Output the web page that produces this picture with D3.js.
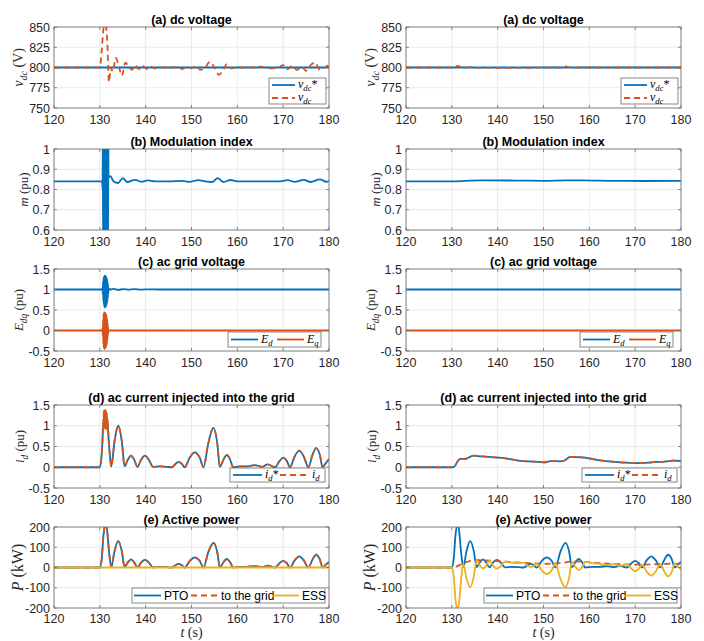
<!DOCTYPE html>
<html>
<head>
<meta charset="utf-8">
<script src="https://cdn.jsdelivr.net/npm/d3@7"></script>
<style>
  body { margin: 0; background: #fff; }
  svg { display: block; }
</style>
</head>
<body>
<svg width="704" height="641"></svg>
<script>
// ---- tick values ----
const xTicks = [120, 130, 140, 150, 160, 170, 180];
const vdcTicks = [750, 775, 800, 825, 850];
const mTicks = [0.6, 0.7, 0.8, 0.9, 1];
const eTicks = [-0.5, 0, 0.5, 1, 1.5];
const idTicks = [-0.5, 0, 0.5, 1, 1.5];
const pTicks = [-200, -100, 0, 100, 200];

// ---- fault transient samples (130.6 - 131.9 s) ----
const burstT = [130.6, 130.65, 130.7, 130.75, 130.8, 130.85, 130.9, 130.95, 131.0, 131.05, 131.1, 131.15, 131.2, 131.25,
  131.3, 131.35, 131.4, 131.45, 131.5, 131.55, 131.6, 131.65, 131.7, 131.75, 131.8, 131.85, 131.9];
const mBurst = [0.8, 1.05, 0.55, 1.05, 0.55, 1.05, 0.55, 1.05, 0.55, 1.05, 0.55, 1.05, 0.55, 1.05,
  0.55, 1.05, 0.55, 1.05, 0.55, 1.05, 0.55, 1.05, 0.55, 1.05, 0.55, 1.05, 0.86];
const edBurst = [1.04, 0.88, 1.2, 0.72, 1.28, 0.64, 1.32, 0.58, 1.34, 0.56, 1.34, 0.56, 1.33, 0.57,
  1.33, 0.58, 1.31, 0.6, 1.29, 0.64, 1.25, 0.7, 1.19, 0.78, 1.12, 0.9, 1.02];
const eqBurst = [0.05, -0.15, 0.25, -0.33, 0.4, -0.43, 0.44, -0.45, 0.44, -0.45, 0.44, -0.44, 0.43, -0.43,
  0.42, -0.41, 0.4, -0.38, 0.35, -0.32, 0.28, -0.24, 0.19, -0.14, 0.09, -0.05, 0.01];
const idBurst = [0.75, 1.0, 0.85, 1.2, 0.95, 1.35, 0.95, 1.38, 0.92, 1.4, 0.95, 1.38, 0.92, 1.37,
  0.95, 1.35, 0.93, 1.33, 0.95, 1.3, 0.92, 1.2, 0.88, 1.05, 0.8, 0.85, 0.7];

// ---- (a) dc voltage [t, V] ----
const vdcRef = [[120, 800], [180, 800]];
const vdcL = [[120, 800], [130, 800], [130.4, 820], [130.8, 848], [131.2, 853], [131.6, 835], [132.0, 782], [132.4, 800],
  [132.8, 795], [133.5, 812], [134.2, 800], [134.8, 790], [135.6, 806], [136.4, 800], [137.0, 797], [137.7, 803],
  [138.5, 798], [139.3, 802], [140.3, 798], [141.2, 801], [142, 799], [144, 800], [146, 800], [147, 801], [148, 798],
  [149, 801], [150, 799], [151, 802], [152, 797], [153, 800], [154, 807], [155, 800], [156, 791], [157, 798],
  [157.7, 804], [158.7, 799], [160, 800], [163, 800], [165, 801], [167, 799], [169, 800], [170, 803], [171, 798],
  [172, 802], [173, 797], [174, 801], [175, 796], [176, 803], [177, 806], [178, 797], [179, 800], [180, 803]];
const vdcR = [[120, 800], [130.5, 800], [131.2, 802], [131.8, 801], [132.5, 800], [134, 800.5], [135, 799.5],
  [154, 800], [154.8, 801.5], [155.5, 800.5], [156.5, 799.5], [158, 800], [180, 800]];

// ---- (b) modulation index [t, pu] ----
const mBaseL = [[120, 0.84], [130.3, 0.84], [130.55, 0.83], [132.3, 0.866], [133, 0.84], [134, 0.832], [135, 0.856],
  [136, 0.837], [137.7, 0.848], [139, 0.838], [140.5, 0.845], [142, 0.84], [145, 0.84], [148, 0.843], [149.5, 0.838],
  [151.5, 0.846], [153, 0.84], [154.5, 0.837], [155.7, 0.856], [157, 0.837], [158.5, 0.847], [160, 0.84], [169, 0.84],
  [171, 0.846], [172.5, 0.838], [174.5, 0.848], [176, 0.837], [178, 0.85], [179.5, 0.838], [180, 0.843]];
const mR = [[120, 0.84], [130, 0.84], [132, 0.841], [134, 0.844], [137, 0.845], [145, 0.844], [150, 0.843],
  [155, 0.845], [158, 0.845], [165, 0.843], [172, 0.842], [180, 0.843]];

// ---- (c) ac grid voltage [t, pu] ----
const edBaseL = [[120, 1], [130.5, 1], [132.4, 1.0], [133, 1.015], [134, 0.99], [135.2, 1.01], [136.3, 0.995],
  [137.5, 1.008], [139, 0.997], [141, 1.005], [143, 1], [180, 1]];
const eqBaseL = [[120, 0], [130.5, 0], [132.1, 0], [180, 0]];
const edR = [[120, 1], [180, 1]];
const eqR = [[120, 0], [180, 0]];

// ---- (d) ac current injected into the grid [t, pu] ----
const idRefL = [[120, 0], [130, 0], [130.4, 0.3], [130.8, 1.05], [131.2, 1.2], [131.6, 1.15], [132.0, 0.55],
  [132.5, 0.02], [133.2, 0.62], [134.0, 1.0], [134.8, 0.62], [135.4, 0.02], [136.1, 0.18], [136.8, 0.28],
  [137.5, 0.18], [138.2, 0.01], [139.0, 0.18], [139.8, 0.28], [140.7, 0.18], [141.6, 0.01], [143.0, 0.02],
  [144.5, 0.01], [145.7, 0.0], [146.5, 0.08], [147.2, 0.13], [147.9, 0.08], [148.5, 0.0], [149.6, 0.23],
  [150.7, 0.36], [151.8, 0.23], [152.6, 0.0], [153.7, 0.6], [154.8, 0.95], [155.6, 0.6], [156.2, 0.01],
  [157.0, 0.19], [157.7, 0.3], [158.4, 0.19], [159.1, 0.0], [160.5, 0.02], [162, 0.02], [163.8, 0.05],
  [165.5, 0.01], [166.6, 0.07], [168.2, 0.0], [169.2, 0.15], [170.0, 0.23], [170.8, 0.15], [171.5, 0.0],
  [172.5, 0.26], [173.5, 0.4], [174.5, 0.26], [175.5, 0.0], [176.4, 0.3], [177.2, 0.46], [178.0, 0.3],
  [178.6, 0.0], [179.3, 0.1], [180, 0.2]];
const idR = [[120, 0], [130.3, 0], [131.8, 0.2], [132.9, 0.2], [134.7, 0.28], [136.5, 0.26], [138, 0.25],
  [140.2, 0.23], [142.4, 0.2], [144.5, 0.16], [146.7, 0.14], [148.9, 0.13], [150.4, 0.12], [151.5, 0.15],
  [152.6, 0.15], [153.6, 0.14], [154.7, 0.17], [155.8, 0.25], [158.4, 0.24], [160.6, 0.2], [162.8, 0.16],
  [165.7, 0.13], [167.9, 0.11], [170, 0.1], [171.5, 0.1], [173, 0.11], [174.4, 0.13], [175.9, 0.13],
  [177.3, 0.15], [178.4, 0.16], [180, 0.15]];

// ---- (e) active power [t, kW] ----
const pPto = [[120, 0], [130, 0], [130.4, 40], [130.8, 160], [131.2, 215], [131.6, 180], [132.0, 80], [132.5, 2],
  [133.2, 80], [134.0, 130], [134.8, 80], [135.4, 2], [136.1, 25], [136.8, 40], [137.5, 25], [138.2, 1], [139.0, 24],
  [139.8, 38], [140.7, 24], [141.6, 1], [143, 3], [144.5, 2], [145.7, 0], [146.5, 11], [147.2, 18], [147.9, 11],
  [148.5, 0], [149.6, 32], [150.7, 50], [151.8, 32], [152.6, 0], [153.7, 78], [154.8, 122], [155.6, 78], [156.2, 1],
  [157.0, 27], [157.7, 42], [158.4, 27], [159.1, 0], [160.5, 3], [162, 3], [163.8, 7], [165.5, 2], [166.6, 9],
  [168.2, 0], [169.2, 21], [170.0, 33], [170.8, 21], [171.5, 0], [172.5, 35], [173.5, 55], [174.5, 35], [175.5, 0],
  [176.4, 40], [177.2, 63], [178.0, 40], [178.6, 0], [179.3, 14], [180, 28]];
const pGridL = pPto;
const pEssL = [[120, 0], [180, 0]];
const pGridR = [[120, 0], [130, 0], [131, 5], [132, 15], [133, 25], [134, 33], [135, 37], [136, 36], [137, 35],
  [139, 33], [141, 30], [143, 27], [145, 24], [147, 21], [149, 19], [150, 18], [152, 20], [154, 22], [155, 26],
  [156, 30], [158, 29], [160, 26], [162, 22], [164, 19], [166, 17], [168, 15], [170, 14], [172, 14], [174, 16],
  [176, 17], [178, 19], [180, 18]];
const pEssR = [[120, 0], [130, 0], [130.4, -39], [130.8, -157], [131.2, -209], [131.6, -170], [132.0, -66],
  [132.5, 18], [133.2, -54], [134.0, -98], [134.8, -44], [135.4, 35], [136.1, 11], [136.8, -5], [137.5, 10],
  [138.2, 33], [139.0, 9], [139.8, -6], [140.7, 7], [141.6, 29], [143, 24], [144.5, 23], [145.7, 23], [146.5, 11],
  [147.2, 3], [147.9, 9], [148.5, 19], [149.6, -14], [150.7, -32], [151.8, -13], [152.6, 20], [153.7, -56],
  [154.8, -97], [155.6, -49], [156.2, 29], [157.0, 3], [157.7, -13], [158.4, 2], [159.1, 28], [160.5, 22], [162, 19],
  [163.8, 13], [165.5, 16], [166.6, 8], [168.2, 15], [169.2, -6], [170.0, -19], [170.8, -7], [171.5, 14],
  [172.5, -20], [173.5, -40], [174.5, -19], [175.5, 17], [176.4, -22], [177.2, -44], [178.0, -21], [178.6, 20],
  [179.3, 5], [180, -10]];

// splice the transient samples into a base series
const withBurst = (base, vals) => base.filter(d => d[0] < burstT[0])
  .concat(burstT.map((t, i) => [t, vals[i]]))
  .concat(base.filter(d => d[0] > burstT[burstT.length - 1]));

const blue = "#0072BD", orange = "#D95319", yellow = "#EDB120";
const axisColor = "#262626";
const sans = "'Liberation Sans', Arial, Helvetica, sans-serif";
const serif = "'Liberation Serif', 'Times New Roman', serif";

const svg = d3.select("svg");
svg.append("rect").attr("width", 704).attr("height", 641).attr("fill", "white");

const colX = [54, 406];
const plotW = 275;
const rows = [
  { top: 27, bottom: 108 },
  { top: 149, bottom: 230 },
  { top: 269, bottom: 351 },
  { top: 405, bottom: 488 },
  { top: 527, bottom: 608 }
];

// math-style label: italic serif letters with subscripts
function mathText(text, segs, size) {
  let prevSub = false;
  segs.forEach(s => {
    const ts = text.append("tspan").text(s.t);
    ts.attr("font-style", s.it ? "italic" : "normal");
    if (s.sub) ts.attr("font-size", size * 0.72);
    if (s.sub && !prevSub) ts.attr("dy", size * 0.28);
    if (!s.sub && prevSub) ts.attr("dy", -size * 0.28);
    prevSub = !!s.sub;
  });
}

const rowDefs = [
  {
    title: "(a) dc voltage", domain: [750, 850], ticks: vdcTicks,
    ylab: [{ t: "v", it: 1 }, { t: "dc", it: 1, sub: 1 }, { t: " (V)" }], ylabSize: 14, ylabOff: 35,
    legend: { kind: "v", w: 57, h: 26, dr: 3, db: 4, items: [
      { segs: [{ t: "v", it: 1 }, { t: "dc", it: 1, sub: 1 }, { t: "*" }], color: blue },
      { segs: [{ t: "v", it: 1 }, { t: "dc", it: 1, sub: 1 }], color: orange, dash: true }] },
    series: [
      [{ data: vdcRef, color: blue }, { data: vdcL, color: orange, dash: true }],
      [{ data: vdcRef, color: blue }, { data: vdcR, color: orange, dash: true }]]
  },
  {
    title: "(b) Modulation index", domain: [0.6, 1], ticks: mTicks,
    ylab: [{ t: "m", it: 1 }, { t: " (pu)" }], ylabSize: 13, ylabOff: 30,
    series: [
      [{ data: withBurst(mBaseL, mBurst), color: blue }],
      [{ data: mR, color: blue }]]
  },
  {
    title: "(c) ac grid voltage", domain: [-0.5, 1.5], ticks: eTicks,
    ylab: [{ t: "E", it: 1 }, { t: "dq", it: 1, sub: 1 }, { t: " (pu)" }], ylabSize: 13, ylabOff: 35,
    legend: { kind: "h", w: 93, h: 15, dr: 8, db: 4, xs: [3, 49], len: 27, items: [
      { segs: [{ t: "E", it: 1 }, { t: "d", it: 1, sub: 1 }], color: blue },
      { segs: [{ t: "E", it: 1 }, { t: "q", it: 1, sub: 1 }], color: orange }] },
    series: [
      [{ data: withBurst(edBaseL, edBurst), color: blue }, { data: withBurst(eqBaseL, eqBurst), color: orange }],
      [{ data: edR, color: blue }, { data: eqR, color: orange }]]
  },
  {
    title: "(d) ac current injected into the grid", domain: [-0.5, 1.5], ticks: idTicks,
    ylab: [{ t: "i", it: 1 }, { t: "d", it: 1, sub: 1 }, { t: " (pu)" }], ylabSize: 13, ylabOff: 34,
    legend: { kind: "h", w: 95, h: 14, dr: 4, db: 6, xs: [3, 50], len: 29, items: [
      { segs: [{ t: "i", it: 1 }, { t: "d", it: 1, sub: 1 }, { t: "*" }], color: blue },
      { segs: [{ t: "i", it: 1 }, { t: "d", it: 1, sub: 1 }], color: orange, dash: true }] },
    series: [
      [{ data: idRefL, color: blue }, { data: withBurst(idRefL, idBurst), color: orange, dash: true }],
      [{ data: idR, color: blue }, { data: idR, color: orange, dash: true }]]
  },
  {
    title: "(e) Active power", domain: [-200, 200], ticks: pTicks,
    ylab: [{ t: "P", it: 1 }, { t: " (kW)" }], ylabSize: 16, ylabOff: 35,
    legend: { kind: "h", w: 193, h: 15, dr: 4, db: 5, xs: [2, 59, 140], len: 27, items: [
      { label: "PTO", color: blue },
      { label: "to the grid", color: orange, dash: true },
      { label: "ESS", color: yellow }] },
    series: [
      [{ data: pPto, color: blue }, { data: pGridL, color: orange, dash: true }, { data: pEssL, color: yellow }],
      [{ data: pPto, color: blue }, { data: pGridR, color: orange, dash: true }, { data: pEssR, color: yellow }]]
  }
];

rowDefs.forEach((row, ri) => {
  const { top, bottom } = rows[ri];
  const lastRow = ri === rowDefs.length - 1;
  colX.forEach((left, ci) => {
    const right = left + plotW;
    const x = d3.scaleLinear().domain([120, 180]).range([left, right]);
    const y = d3.scaleLinear().domain(row.domain).range([bottom, top]);
    const g = svg.append("g");

    // grid
    g.selectAll(null).data(xTicks).join("line")
      .attr("x1", d => x(d)).attr("x2", d => x(d)).attr("y1", top).attr("y2", bottom)
      .attr("stroke", "#e4e4e4").attr("stroke-width", 0.8);
    g.selectAll(null).data(row.ticks).join("line")
      .attr("x1", left).attr("x2", right).attr("y1", d => y(d)).attr("y2", d => y(d))
      .attr("stroke", "#e4e4e4").attr("stroke-width", 0.8);

    // data lines
    const clipId = `clip-${ri}-${ci}`;
    g.append("clipPath").attr("id", clipId).append("rect")
      .attr("x", left).attr("y", top).attr("width", plotW).attr("height", bottom - top);
    const line = d3.line().x(d => x(d[0])).y(d => y(d[1])).curve(d3.curveMonotoneX);
    const lines = g.append("g").attr("clip-path", `url(#${clipId})`);
    row.series[ci].forEach(s => {
      lines.append("path")
        .attr("d", line(s.data))
        .attr("fill", "none")
        .attr("stroke", s.color)
        .attr("stroke-width", 1.8)
        .attr("stroke-dasharray", s.dash ? "6,4" : null);
    });

    // axes box and ticks
    g.append("rect")
      .attr("x", left).attr("y", top).attr("width", plotW).attr("height", bottom - top)
      .attr("fill", "none").attr("stroke", "#6b6b6b").attr("stroke-width", 0.8);
    g.selectAll(null).data(xTicks).join("path")
      .attr("d", d => `M${x(d)},${bottom}v-3M${x(d)},${top}v3`)
      .attr("stroke", "#6b6b6b").attr("stroke-width", 0.8);
    g.selectAll(null).data(row.ticks).join("path")
      .attr("d", d => `M${left},${y(d)}h3M${right},${y(d)}h-3`)
      .attr("stroke", "#6b6b6b").attr("stroke-width", 0.8);

    g.selectAll(null).data(xTicks).join("text")
      .attr("x", d => x(d)).attr("y", bottom + (lastRow ? 14.5 : 16))
      .attr("text-anchor", "middle")
      .attr("font-family", sans).attr("font-size", 12.5).attr("fill", axisColor)
      .text(d => String(d));
    g.selectAll(null).data(row.ticks).join("text")
      .attr("x", left - 4).attr("y", d => y(d) + 4.5)
      .attr("text-anchor", "end")
      .attr("font-family", sans).attr("font-size", 12.5).attr("fill", axisColor)
      .text(d => String(d));

    // title
    g.append("text")
      .attr("x", (left + right) / 2).attr("y", top - 3.5)
      .attr("text-anchor", "middle")
      .attr("font-family", sans).attr("font-size", 12.5).attr("font-weight", "bold")
      .attr("fill", "#000")
      .text(row.title);

    // y label
    const yl = g.append("text")
      .attr("transform", `translate(${left - row.ylabOff + 4},${(top + bottom) / 2}) rotate(-90)`)
      .attr("text-anchor", "middle")
      .attr("font-family", serif).attr("font-size", row.ylabSize).attr("fill", axisColor);
    mathText(yl, row.ylab, row.ylabSize);

    // x label on last row
    if (lastRow) {
      const xl = g.append("text")
        .attr("x", (left + right) / 2).attr("y", bottom + 29)
        .attr("text-anchor", "middle")
        .attr("font-family", serif).attr("font-size", 14).attr("fill", axisColor);
      mathText(xl, [{ t: "t", it: 1 }, { t: " (s)" }], 14);
    }

    // legend
    const lg = row.legend;
    if (lg) {
      const bx = right - lg.dr - lg.w, by = bottom - lg.db - lg.h;
      const leg = g.append("g").attr("transform", `translate(${bx},${by})`);
      leg.append("rect").attr("width", lg.w).attr("height", lg.h)
        .attr("fill", "white").attr("stroke", "#6b6b6b").attr("stroke-width", 0.8);
      lg.items.forEach((it, k) => {
        const lx = lg.kind === "v" ? 3 : lg.xs[k];
        const len = lg.kind === "v" ? 23 : lg.len;
        const ly = lg.kind === "v" ? 7 + k * 13 : lg.h / 2;
        leg.append("line")
          .attr("x1", lx).attr("x2", lx + len).attr("y1", ly).attr("y2", ly)
          .attr("stroke", it.color).attr("stroke-width", 1.8)
          .attr("stroke-dasharray", it.dash ? "6,4" : null);
        const t = leg.append("text")
          .attr("x", lx + len + 3).attr("y", ly + (it.label ? 4 : 3))
          .attr("fill", "#000");
        if (it.label) {
          t.attr("font-family", sans).attr("font-size", 12).text(it.label);
        } else {
          t.attr("font-family", serif).attr("font-size", 12);
          mathText(t, it.segs, 12);
        }
      });
    }
  });
});
</script>
</body>
</html>
